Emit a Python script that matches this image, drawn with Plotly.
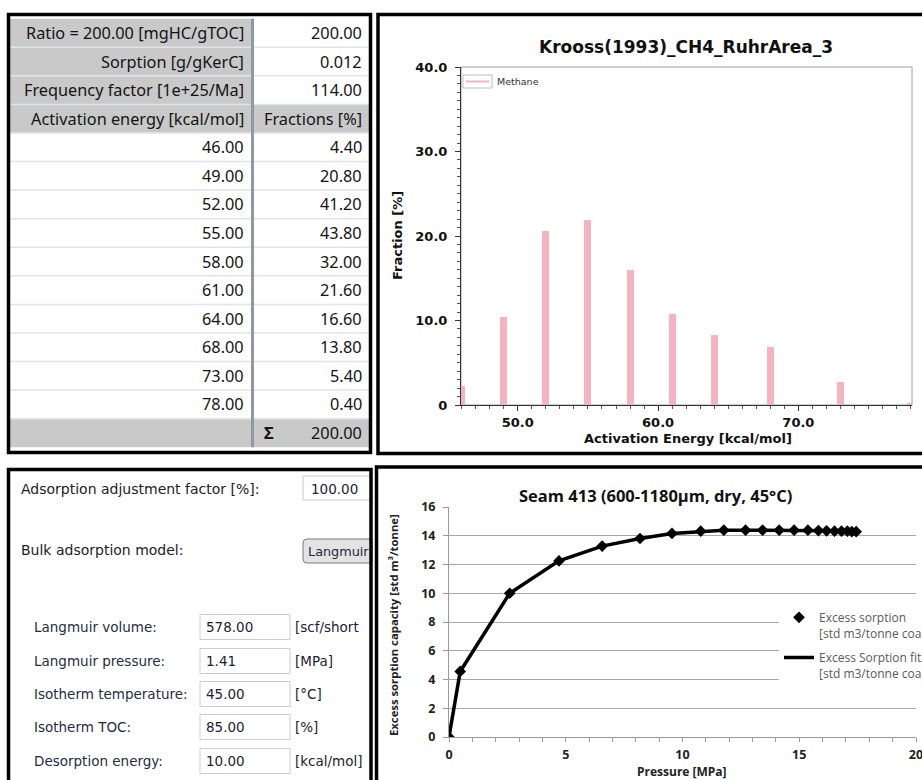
import plotly.graph_objects as go

W, H = 922, 780

# ---------------- kinetic parameter table ----------------
param_labels = ["Ratio = 200.00 [mgHC/gTOC]", "Sorption [g/gKerC]", "Frequency factor [1e+25/Ma]"]
param_values = ["200.00", "0.012", "114.00"]
column_titles = ["Activation energy [kcal/mol]", "Fractions [%]"]
activation_energy = [46.0, 49.0, 52.0, 55.0, 58.0, 61.0, 64.0, 68.0, 73.0, 78.0]
fractions = [4.40, 20.80, 41.20, 43.80, 32.00, 21.60, 16.60, 13.80, 5.40, 0.40]

# ---------------- adsorption settings ----------------
adjustment_label = "Adsorption adjustment factor [%]:"
adjustment_value = "100.00"
model_label = "Bulk adsorption model:"
model_value = "Langmuir"
field_labels = ["Langmuir volume:", "Langmuir pressure:", "Isotherm temperature:", "Isotherm TOC:", "Desorption energy:"]
field_values = ["578.00", "1.41", "45.00", "85.00", "10.00"]
field_units = ["[scf/short", "[MPa]", "[°C]", "[%]", "[kcal/mol]"]

# ---------------- measured isotherm ----------------
pressure_mpa = [0.0, 0.48, 2.6, 4.71, 6.56, 8.18, 9.55, 10.78, 11.77, 12.7, 13.43,
                14.14, 14.78, 15.37, 15.82, 16.17, 16.51, 16.81, 17.06, 17.25, 17.44]
excess_sorption = [0.0, 4.56, 10.0, 12.25, 13.28, 13.81, 14.16, 14.32, 14.39, 14.39, 14.39,
                   14.39, 14.39, 14.39, 14.36, 14.34, 14.32, 14.32, 14.32, 14.28, 14.28]

# distribution shares in percent of the total
fraction_total = sum(fractions)
fraction_share = [f / fraction_total * 100.0 for f in fractions]


def px(x):
    return x / W


def py(y):
    return 1 - y / H


shapes = []
annotations = []


def text(x, y, s, size, color="#141414", family="Noto Sans", weight="normal",
         xanchor="left", angle=0):
    annotations.append(dict(
        x=px(x), y=py(y), xref="paper", yref="paper", text=s, showarrow=False,
        xanchor=xanchor, yanchor="middle", textangle=angle, borderpad=0,
        font=dict(family=family, size=size, color=color, weight=weight)))


def rect(x0, y0, x1, y1, fill=None, line=None, lw=1.0, layer="above"):
    shapes.append(dict(
        type="rect", xref="paper", yref="paper", layer=layer,
        x0=px(x0), x1=px(x1), y0=py(y1), y1=py(y0),
        fillcolor=fill if fill else "rgba(0,0,0,0)",
        line=dict(color=line if line else "rgba(0,0,0,0)", width=lw if line else 0)))


def seg(x0, y0, x1, y1, color, lw, layer="above"):
    shapes.append(dict(
        type="line", xref="paper", yref="paper", layer=layer,
        x0=px(x0), x1=px(x1), y0=py(y0), y1=py(y1),
        line=dict(color=color, width=lw)))


# ---------------- table panel ----------------
GRAY = "#c9c9c9"
ROW_TOP, ROW_H = 18.7, 28.57
LEFT_X0, SEP_X, RIGHT_X1 = 10, 252.5, 369
LEFT_TEXT_R, RIGHT_TEXT_R = 245, 363
TABLE_SIZE = 16.3

table_rows = [(lbl, val) for lbl, val in zip(param_labels, param_values)]
table_rows.append(tuple(column_titles))
table_rows += [(f"{e:.2f}", f"{f:.2f}") for e, f in zip(activation_energy, fractions)]
n_rows = len(table_rows) + 1

for i in range(n_rows):
    top = ROW_TOP + i * ROW_H
    bot = top + ROW_H
    left_gray = i < len(param_labels) + 1 or i == n_rows - 1
    right_gray = i == len(param_labels) or i == n_rows - 1
    if left_gray:
        rect(LEFT_X0, top, SEP_X, bot, fill=GRAY)
    if right_gray:
        rect(SEP_X, top, RIGHT_X1, bot, fill=GRAY)
    if i > 0:
        seg(LEFT_X0, top, RIGHT_X1, top, "#e0e4e9", 1.5)

for i, (left, right) in enumerate(table_rows):
    cy = ROW_TOP + (i + 0.5) * ROW_H
    text(LEFT_TEXT_R, cy, left, TABLE_SIZE, xanchor="right")
    text(RIGHT_TEXT_R, cy, right, TABLE_SIZE, xanchor="right")

cy_sum = ROW_TOP + (n_rows - 0.5) * ROW_H
text(263, cy_sum, "<b>Σ</b>", 16.5, xanchor="left")
text(RIGHT_TEXT_R, cy_sum, f"{fraction_total:.2f}", TABLE_SIZE, xanchor="right")
seg(SEP_X, ROW_TOP, SEP_X, ROW_TOP + n_rows * ROW_H, "#8f99a4", 3)

# ---------------- adsorption settings panel ----------------
FORM_FONT = "DejaVu Sans"
LABEL_C = "#1f2d45"
text(20, 489, adjustment_label, 14, color="#1c2026", family=FORM_FONT)
rect(303, 476, 372, 500, fill="white", line="#c8cdd4", lw=1, layer="below")
text(310, 489, adjustment_value, 13.5, color="#1c2230", family=FORM_FONT)

text(20, 550, model_label, 14, color="#1c2026", family=FORM_FONT)
bx0, by0, bx1, by1, r = 303, 539, 372, 563, 4
shapes.append(dict(
    type="path", xref="paper", yref="paper", layer="below",
    path=(f"M{px(bx0 + r)},{py(by0)} L{px(bx1)},{py(by0)} L{px(bx1)},{py(by1)} "
          f"L{px(bx0 + r)},{py(by1)} Q{px(bx0)},{py(by1)} {px(bx0)},{py(by1 - r)} "
          f"L{px(bx0)},{py(by0 + r)} Q{px(bx0)},{py(by0)} {px(bx0 + r)},{py(by0)} Z"),
    fillcolor="#e3e3e3", line=dict(color="#7a7a7a", width=1)))
text(307, 551, model_value, 12.8, color="#1c2a40", family=FORM_FONT)

field_y = [627, 661, 694, 727, 761]
for lbl, val, unit, yy in zip(field_labels, field_values, field_units, field_y):
    text(33, yy, lbl, 13.5, color=LABEL_C, family=FORM_FONT)
    rect(200, yy - 12.5, 290, yy + 12.5, fill="white", line="#c8cdd4", lw=1, layer="below")
    text(205, yy, val, 13.5, color="#1c2230", family=FORM_FONT)
    text(294, yy, unit, 13.5, color="#1c2230", family=FORM_FONT)

# ---------------- panel frames ----------------
for (x0, y0, x1, y1) in [(8.5, 14.5, 370.5, 452.5), (378, 14.5, 940, 453.5),
                         (8.5, 469.5, 371, 800), (376.5, 467, 940, 800)]:
    rect(x0, y0, x1, y1, line="black", lw=3.5)

# ---------------- figure ----------------
PINK = "#f5b3bf"
fig = go.Figure()

fig.add_trace(go.Bar(
    x=activation_energy, y=fraction_share, width=0.5, marker=dict(color=PINK, line=dict(width=0)),
    xaxis="x", yaxis="y", showlegend=False, name="Methane"))

fig.add_trace(go.Scatter(
    x=pressure_mpa, y=excess_sorption, mode="markers",
    marker=dict(symbol="diamond", size=9, color="black"),
    name="Excess sorption<br>[std m3/tonne coal]", legendgroup="data",
    xaxis="x2", yaxis="y2", legend="legend2"))
fig.add_trace(go.Scatter(
    x=pressure_mpa, y=excess_sorption, mode="lines",
    line=dict(color="black", width=3.5),
    name="Excess Sorption fit<br>[std m3/tonne coal]", legendgroup="fit",
    xaxis="x2", yaxis="y2", legend="legend2"))

TOP_FONT = dict(family="DejaVu Sans", size=13, color="#111111", weight="bold")
BOT_FONT = dict(family="Open Sans", size=12.5, color="#222222", weight="bold")

fig.update_layout(
    width=W, height=H,
    margin=dict(l=0, r=0, t=0, b=0, autoexpand=False),
    paper_bgcolor="white", plot_bgcolor="white",
    bargap=0,
    showlegend=True,
    xaxis=dict(domain=[px(461), px(912)], range=[45.95, 78.1], anchor="y",
               tickvals=[50, 60, 70], ticktext=["50.0", "60.0", "70.0"],
               ticks="outside", ticklen=5, tickwidth=1, tickcolor="#333",
               minor=dict(dtick=1, tick0=0, ticks="outside", ticklen=3, tickcolor="#555"),
               showgrid=False, zeroline=False, showline=True, linecolor="#333", linewidth=1,
               tickfont=TOP_FONT, fixedrange=True),
    yaxis=dict(domain=[py(405), py(67)], range=[0, 40], anchor="x",
               tickvals=[0, 10, 20, 30, 40], ticktext=["0", "10.0", "20.0", "30.0", "40.0"],
               ticks="outside", ticklen=5, tickwidth=1, tickcolor="#333",
               minor=dict(dtick=1, tick0=0, ticks="outside", ticklen=3, tickcolor="#555"),
               showgrid=False, zeroline=False, showline=True, linecolor="#333", linewidth=1,
               ticklabelstandoff=5,
               tickfont=TOP_FONT, fixedrange=True),
    xaxis2=dict(domain=[px(449), px(916)], range=[0, 20], anchor="y2",
                tickvals=[0, 5, 10, 15, 20], ticklabeloverflow="allow",
                ticks="outside", ticklen=4, tickwidth=1, tickcolor="#9a9a9a",
                minor=dict(dtick=1, tick0=0, ticks="outside", ticklen=4, tickcolor="#9a9a9a"),
                showgrid=False, zeroline=False, showline=True, linecolor="#9a9a9a", linewidth=1,
                ticklabelstandoff=2,
                tickfont=BOT_FONT, fixedrange=True),
    yaxis2=dict(domain=[py(737), py(507)], range=[0, 16], anchor="x2", dtick=2,
                ticks="outside", ticklen=5, tickwidth=1, tickcolor="#9a9a9a",
                showgrid=True, gridcolor="#a8a8a8", gridwidth=1,
                zeroline=False, showline=True, linecolor="#9a9a9a", linewidth=1,
                ticklabelstandoff=5,
                tickfont=BOT_FONT, fixedrange=True),
    legend2=dict(x=px(779), y=py(603), xanchor="left", yanchor="top",
                 bgcolor="white", borderwidth=0, valign="top", tracegroupgap=6,
                 font=dict(family="Open Sans", size=12, color="#5a5a5a"), itemwidth=30),
)

# plot frame of the distribution chart
shapes.append(dict(type="rect", xref="x domain", yref="y domain", x0=0, x1=1, y0=0, y1=1,
                   line=dict(color="#a0a0a0", width=1), layer="below"))

# key of the distribution chart
rect(463, 75, 492, 88, fill="white", line="#bdbdbd", lw=1)
seg(466, 81.5, 489, 81.5, PINK, 2)
text(496, 81.5, "Methane", 9.5, color="#333", family="DejaVu Sans")

# chart titles and axis titles
text(686, 47, "Krooss(1993)_CH4_RuhrArea_3", 17, color="#111", family="DejaVu Sans",
     weight="bold", xanchor="center")
text(688, 438, "Activation Energy [kcal/mol]", 13, color="#111", family="DejaVu Sans",
     weight="bold", xanchor="center")
text(397, 236, "Fraction [%]", 13, color="#111", family="DejaVu Sans",
     weight="bold", xanchor="center", angle=-90)

text(655, 495, "Seam 413 (600-1180µm, dry, 45°C)", 16.5, color="#111", family="Open Sans",
     weight="bold", xanchor="center")
text(682, 771, "Pressure [MPa]", 12, color="#222", family="Open Sans",
     weight="bold", xanchor="center")
text(393, 625, "Excess sorption capacity [std m³/tonne]", 11.3, color="#222", family="Open Sans",
     weight="bold", xanchor="center", angle=-90)

fig.update_layout(shapes=shapes, annotations=annotations)
fig.write_html("out.html")
